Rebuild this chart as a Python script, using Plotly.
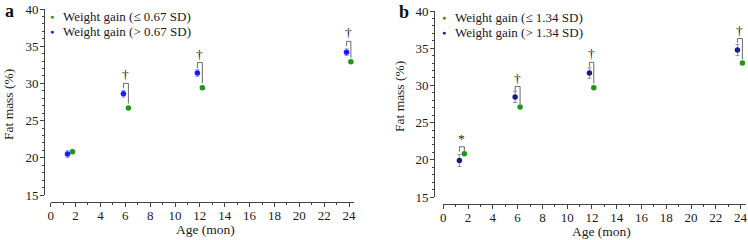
import plotly.graph_objects as go

# ---------------- data ----------------
# Panel a (cut-off 0.67 SD)
a_green_x = [1.75, 6.25, 12.2, 24.15]
a_green_y = [20.8, 26.7, 29.4, 32.9]
a_green_err = [0.25, 0.2, 0.2, 0.2]
a_blue_x = [1.35, 5.85, 11.8, 23.8]
a_blue_y = [20.5, 28.6, 31.4, 34.2]
a_blue_err = [0.45, 0.45, 0.45, 0.45]
a_brk_top = [None, 30.0, 32.8, 35.65]
a_brk_left = [None, 29.35, 32.05, 35.05]
a_brk_right = [None, 27.3, 30.0, 33.45]
a_sig = ["", "†", "†", "†"]

# Panel b (cut-off 1.34 SD)
b_green_x = [1.7, 6.2, 12.15, 24.15]
b_green_y = [20.8, 27.1, 29.7, 33.0]
b_green_err = [0.2, 0.2, 0.2, 0.2]
b_blue_x = [1.3, 5.8, 11.8, 23.75]
b_blue_y = [19.9, 28.45, 31.65, 34.75]
b_blue_err = [0.8, 0.75, 0.7, 0.75]
b_brk_top = [21.75, 29.85, 33.1, 36.3]
b_brk_left = [21.1, 29.2, 32.5, 35.7]
b_brk_right = [21.15, 27.5, 30.25, 33.5]
b_sig = ["*", "†", "†", "†"]

x_ticks = list(range(0, 25, 2))
y_ticks = [15, 20, 25, 30, 35, 40]

W, H = 748, 240
GREEN = "#1f951f"
BLUE_A = "#1a1aff"
BLUE_B = "#1c1c85"
LINE = "#444444"
FONT = "Liberation Serif, Times New Roman, Tinos, DejaVu Serif, serif"
TXT = "#1a1a1a"

fig = go.Figure()


def bracket(xl, xr, top, left, right):
    xs, ys = [], []
    for a, b, t, l, r in zip(xl, xr, top, left, right):
        if t is None:
            continue
        xs += [a, a, b, b, None]
        ys += [l, t, t, r, None]
    return xs, ys


def paper_text(text, x, y, size=13, color=TXT, angle=0, xanchor="center"):
    fig.add_annotation(x=x / W, y=1 - y / H, xref="paper", yref="paper",
                       text=text, showarrow=False, textangle=angle,
                       xanchor=xanchor, yanchor="middle",
                       font=dict(family=FONT, size=size, color=color))


def add_panel(xa, ya, gx, gy, ge, bx, by, be, top, left, right, sig,
              blue, blue_err_col, cut, leg_x, leg_y):
    fig.add_trace(go.Scatter(
        x=gx, y=gy, mode="markers", xaxis=xa, yaxis=ya, showlegend=False,
        name=f"Weight gain (≤ {cut} SD)",
        marker=dict(color=GREEN, size=5.5),
        error_y=dict(type="data", array=ge, color="rgba(31,149,31,0.55)",
                     thickness=1, width=2),
        cliponaxis=False))
    fig.add_trace(go.Scatter(
        x=bx, y=by, mode="markers", xaxis=xa, yaxis=ya, showlegend=False,
        name=f"Weight gain (> {cut} SD)",
        marker=dict(color=blue, size=5.5),
        error_y=dict(type="data", array=be, color=blue_err_col,
                     thickness=1, width=2),
        cliponaxis=False))
    xs, ys = bracket(bx, gx, top, left, right)
    fig.add_trace(go.Scatter(
        x=xs, y=ys, mode="lines", xaxis=xa, yaxis=ya, showlegend=False,
        line=dict(color="#6a6a6a", width=1), hoverinfo="skip",
        cliponaxis=False))
    for a, b, t, s in zip(bx, gx, top, sig):
        if s and t is not None:
            fig.add_annotation(x=(a + b) / 2, y=t, xref=xa, yref=ya,
                               text=s, showarrow=False, yanchor="bottom",
                               xanchor="center", yshift=-1,
                               font=dict(family=FONT, size=13.5, color=TXT))
    # legend (symbol + label)
    for i, (col, lab) in enumerate([(GREEN, f"Weight gain (≤ {cut} SD)"),
                                    (blue, f"Weight gain (> {cut} SD)")]):
        yy = leg_y + 15 * i
        paper_text("●", leg_x, yy, size=7, color=col)
        paper_text(lab, leg_x + 9, yy, xanchor="left")


add_panel("x", "y", a_green_x, a_green_y, a_green_err,
          a_blue_x, a_blue_y, a_blue_err, a_brk_top, a_brk_left, a_brk_right,
          a_sig, BLUE_A, "rgba(80,80,255,0.55)", "0.67", 52, 17)
add_panel("x2", "y2", b_green_x, b_green_y, b_green_err,
          b_blue_x, b_blue_y, b_blue_err, b_brk_top, b_brk_left, b_brk_right,
          b_sig, BLUE_B, "rgba(60,60,140,0.55)", "1.34", 444, 18)


def xaxis(x0, x1, ypos):
    return dict(domain=[x0 / W, x1 / W], range=[0, 24.4], anchor="free",
                position=1 - ypos / H, showline=True, linecolor=LINE,
                linewidth=1, ticks="outside", ticklen=4, tickwidth=1,
                tickcolor=LINE, tickvals=x_ticks, showgrid=False,
                zeroline=False, automargin=False, ticklabelstandoff=-3,
                minor=dict(dtick=1, tick0=0, ticks="outside", ticklen=2,
                           tickcolor=LINE, showgrid=False),
                tickfont=dict(family=FONT, size=13, color=TXT))


def yaxis(xpos, ytop, ybot):
    return dict(domain=[1 - ybot / H, 1 - ytop / H], range=[15, 40],
                anchor="free", position=xpos / W, showline=True,
                linecolor=LINE, linewidth=1, ticks="outside", ticklen=4,
                tickwidth=1, tickcolor=LINE, tickvals=y_ticks,
                showgrid=False, zeroline=False, automargin=False,
                ticklabelstandoff=-1,
                minor=dict(dtick=1, tick0=15, ticks="outside", ticklen=2,
                           tickcolor=LINE, showgrid=False),
                tickfont=dict(family=FONT, size=13, color=TXT))


fig.update_layout(
    width=W, height=H,
    margin=dict(l=0, r=0, t=0, b=0, pad=0, autoexpand=False),
    paper_bgcolor="white", plot_bgcolor="white",
    font=dict(family=FONT, size=12, color=TXT),
    xaxis=xaxis(50.7, 354, 202), yaxis=yaxis(44, 9, 195),
    xaxis2=xaxis(443.3, 745.5, 204), yaxis2=yaxis(434, 11, 197),
    showlegend=False,
)

# panel labels and axis titles
paper_text("<b>a</b>", 9, 11, size=18, color="#111")
paper_text("<b>b</b>", 404, 12, size=18, color="#111")
paper_text("Age (mon)", 205, 229, size=13.5)
paper_text("Age (mon)", 601, 231, size=13.5)
paper_text("Fat mass (%)", 8, 105, angle=-90, size=13.5)
paper_text("Fat mass (%)", 399, 97, angle=-90, size=13.5)

fig.write_html("out.html")
